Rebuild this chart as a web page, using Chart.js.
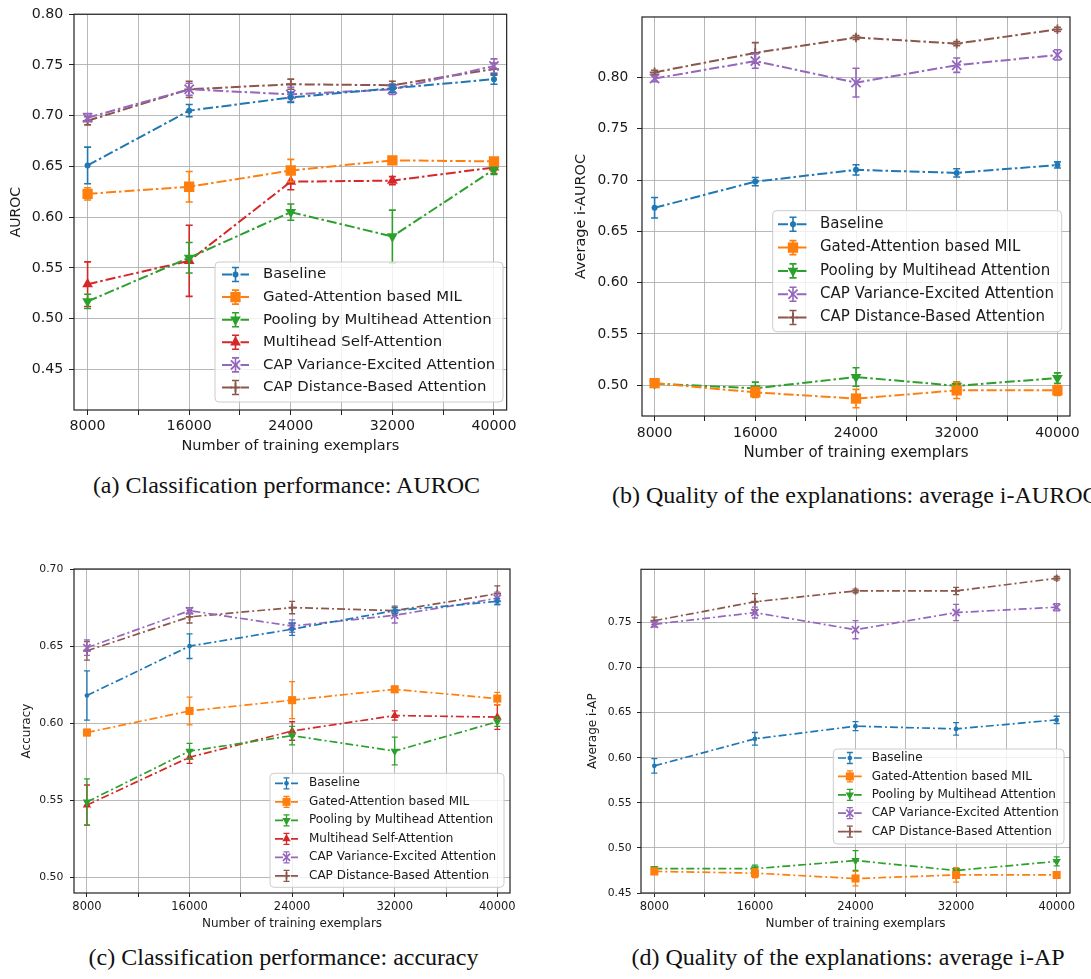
<!DOCTYPE html>
<html><head><meta charset="utf-8">
<script src="https://cdn.jsdelivr.net/npm/chart.js@4.4.1/dist/chart.umd.min.js"></script>
<style>
html,body{margin:0;padding:0;background:#fff;width:1091px;height:979px;overflow:hidden;position:relative}
canvas{position:absolute;display:block}
.cap{position:absolute;font-family:"Liberation Serif","Times New Roman",serif;font-size:24px;line-height:24px;white-space:nowrap;color:#111}
</style></head><body>
<canvas id="ca"></canvas>
<canvas id="cb"></canvas>
<canvas id="cc"></canvas>
<canvas id="cd"></canvas>
<div class="cap" style="left:0;width:573px;top:473px;text-align:center">(a) Classification performance: AUROC</div>
<div class="cap" style="left:612px;top:483px">(b) Quality of the explanations: average i-AUROC</div>
<div class="cap" style="left:0;width:567px;top:945px;text-align:center">(c) Classification performance: accuracy</div>
<div class="cap" style="left:560px;width:576px;top:945px;text-align:center">(d) Quality of the explanations: average i-AP</div>
<script>
// ---------- data ----------
const xValues = [8000, 16000, 24000, 32000, 40000];
const xGridTicks = [8000, 12000, 16000, 20000, 24000, 28000, 32000, 36000, 40000];
const xLabelTicks = [8000, 16000, 24000, 32000, 40000];
const xTitle = 'Number of training exemplars';

// (a) AUROC
const aurocTicks = [0.45, 0.50, 0.55, 0.60, 0.65, 0.70, 0.75, 0.80];
const aurocBaseline = [0.651, 0.705, 0.718, 0.727, 0.736];
const aurocBaselineErr = [0.018, 0.006, 0.005, 0.004, 0.005];
const aurocGated = [0.623, 0.630, 0.646, 0.656, 0.655];
const aurocGatedErr = [0.006, 0.015, 0.011, 0.003, 0.003];
const aurocPooling = [0.517, 0.560, 0.605, 0.581, 0.647];
const aurocPoolingErr = [0.007, 0.015, 0.008, 0.026, 0.005];
const aurocMSA = [0.534, 0.557, 0.635, 0.636, 0.649];
const aurocMSAErr = [0.022, 0.035, 0.008, 0.004, 0.006];
const aurocCapVar = [0.698, 0.726, 0.721, 0.726, 0.749];
const aurocCapVarErr = [0.004, 0.006, 0.007, 0.005, 0.007];
const aurocCapDist = [0.695, 0.726, 0.731, 0.730, 0.746];
const aurocCapDistErr = [0.004, 0.008, 0.005, 0.004, 0.006];

// (b) average i-AUROC
const iaurocTicks = [0.50, 0.55, 0.60, 0.65, 0.70, 0.75, 0.80];
const iaurocBaseline = [0.673, 0.6985, 0.710, 0.707, 0.7147];
const iaurocBaselineErr = [0.010, 0.004, 0.005, 0.004, 0.003];
const iaurocGated = [0.502, 0.493, 0.487, 0.495, 0.495];
const iaurocGatedErr = [0.003, 0.005, 0.009, 0.008, 0.005];
const iaurocPooling = [0.5016, 0.497, 0.508, 0.4994, 0.507];
const iaurocPoolingErr = [0.003, 0.006, 0.009, 0.004, 0.005];
const iaurocCapVar = [0.799, 0.816, 0.795, 0.812, 0.822];
const iaurocCapVarErr = [0.003, 0.007, 0.014, 0.007, 0.005];
const iaurocCapDist = [0.805, 0.824, 0.839, 0.833, 0.847];
const iaurocCapDistErr = [0.002, 0.010, 0.002, 0.002, 0.002];

// (c) accuracy
const accTicks = [0.50, 0.55, 0.60, 0.65, 0.70];
const accBaseline = [0.618, 0.650, 0.661, 0.673, 0.679];
const accBaselineErr = [0.016, 0.008, 0.004, 0.002, 0.002];
const accGated = [0.594, 0.608, 0.615, 0.622, 0.616];
const accGatedErr = [0.002, 0.009, 0.012, 0.002, 0.004];
const accPooling = [0.549, 0.582, 0.592, 0.582, 0.601];
const accPoolingErr = [0.015, 0.005, 0.006, 0.009, 0.003];
const accMSA = [0.547, 0.578, 0.595, 0.605, 0.604];
const accMSAErr = [0.013, 0.004, 0.006, 0.003, 0.008];
const accCapVar = [0.649, 0.673, 0.663, 0.670, 0.681];
const accCapVarErr = [0.005, 0.002, 0.004, 0.005, 0.004];
const accCapDist = [0.647, 0.669, 0.675, 0.673, 0.684];
const accCapDistErr = [0.006, 0.004, 0.004, 0.003, 0.005];

// (d) average i-AP
const iapTicks = [0.45, 0.50, 0.55, 0.60, 0.65, 0.70, 0.75];
const iapBaseline = [0.591, 0.621, 0.635, 0.632, 0.642];
const iapBaselineErr = [0.008, 0.007, 0.005, 0.007, 0.004];
const iapGated = [0.474, 0.472, 0.466, 0.470, 0.470];
const iapGatedErr = [0.003, 0.005, 0.008, 0.008, 0.002];
const iapPooling = [0.477, 0.477, 0.486, 0.475, 0.485];
const iapPoolingErr = [0.002, 0.004, 0.011, 0.003, 0.005];
const iapCapVar = [0.748, 0.761, 0.742, 0.761, 0.767];
const iapCapVarErr = [0.003, 0.006, 0.010, 0.009, 0.004];
const iapCapDist = [0.752, 0.773, 0.785, 0.785, 0.799];
const iapCapDistErr = [0.004, 0.009, 0.002, 0.004, 0.002];

// ---------- styles ----------
const seriesStyle = {
  'Baseline': {color: '#1f77b4', style: 'circle', r: 3, rot: 0},
  'Gated-Attention based MIL': {color: '#ff7f0e', style: 'rect', r: 7.3, rot: 0},
  'Pooling by Multihead Attention': {color: '#2ca02c', style: 'triangle', r: 6.2, rot: 180},
  'Multihead Self-Attention': {color: '#d62728', style: 'triangle', r: 6.2, rot: 0},
  'CAP Variance-Excited Attention': {color: '#9467bd', style: 'crossRot', r: 6.5, rot: 0},
  'CAP Distance-Based Attention': {color: '#8c564b', style: 'cross', r: 4.8, rot: 0}
};

const FONT = "'DejaVu Sans', 'Liberation Sans', sans-serif";
Chart.defaults.font.family = FONT;
Chart.defaults.color = '#1a1a1a';

function drawMarker(ctx, st, x, y, scale) {
  const r = st.r * scale;
  ctx.save();
  ctx.fillStyle = st.color; ctx.strokeStyle = st.color; ctx.lineWidth = 1.8; ctx.setLineDash([]);
  ctx.beginPath();
  if (st.style === 'circle') { ctx.arc(x, y, r, 0, Math.PI * 2); ctx.fill(); }
  else if (st.style === 'rect') { const s = r * Math.SQRT1_2; ctx.rect(x - s, y - s, 2 * s, 2 * s); ctx.fill(); }
  else if (st.style === 'triangle') {
    let a = st.rot * Math.PI / 180;
    for (let k = 0; k < 3; k++) { const px = x + Math.sin(a) * r, py = y - Math.cos(a) * r; k ? ctx.lineTo(px, py) : ctx.moveTo(px, py); a += 2 * Math.PI / 3; }
    ctx.closePath(); ctx.fill();
  } else if (st.style === 'crossRot') {
    const o = r * Math.SQRT1_2;
    ctx.moveTo(x - o, y - o); ctx.lineTo(x + o, y + o); ctx.moveTo(x - o, y + o); ctx.lineTo(x + o, y - o); ctx.stroke();
  } else if (st.style === 'cross') {
    ctx.moveTo(x - r, y); ctx.lineTo(x + r, y); ctx.moveTo(x, y - r); ctx.lineTo(x, y + r); ctx.stroke();
  }
  ctx.restore();
}

const errorBarPlugin = {
  id: 'errbars',
  beforeDatasetDraw(chart, args, opts) {
    const ds = chart.data.datasets[args.index];
    if (!ds.errors) return;
    const ctx = chart.ctx, ys = chart.scales.y, cap = opts.cap, a = chart.chartArea;
    ctx.save();
    ctx.beginPath(); ctx.rect(a.left, a.top, a.right - a.left, a.bottom - a.top); ctx.clip();
    ctx.strokeStyle = ds.borderColor; ctx.lineWidth = opts.width; ctx.setLineDash([]);
    args.meta.data.forEach((pt, i) => {
      const v = ds.data[i].y, e = ds.errors[i];
      const x = pt.x, y1 = ys.getPixelForValue(v - e), y2 = ys.getPixelForValue(v + e);
      ctx.beginPath();
      ctx.moveTo(x, y1); ctx.lineTo(x, y2);
      ctx.moveTo(x - cap, y1); ctx.lineTo(x + cap, y1);
      ctx.moveTo(x - cap, y2); ctx.lineTo(x + cap, y2);
      ctx.stroke();
    });
    ctx.restore();
  }
};

const frameLegendPlugin = {
  id: 'frameLegend',
  afterDraw(chart, args, o) {
    const ctx = chart.ctx, a = chart.chartArea;
    ctx.save();
    ctx.strokeStyle = '#222'; ctx.lineWidth = 1.2; ctx.setLineDash([]);
    ctx.strokeRect(a.left, a.top, a.right - a.left, a.bottom - a.top);
    // legend
    const L = o.legend;
    const rr = 4;
    ctx.beginPath();
    ctx.moveTo(L.x0 + rr, L.y0); ctx.lineTo(L.x1 - rr, L.y0); ctx.quadraticCurveTo(L.x1, L.y0, L.x1, L.y0 + rr);
    ctx.lineTo(L.x1, L.y1 - rr); ctx.quadraticCurveTo(L.x1, L.y1, L.x1 - rr, L.y1);
    ctx.lineTo(L.x0 + rr, L.y1); ctx.quadraticCurveTo(L.x0, L.y1, L.x0, L.y1 - rr);
    ctx.lineTo(L.x0, L.y0 + rr); ctx.quadraticCurveTo(L.x0, L.y0, L.x0 + rr, L.y0);
    ctx.closePath();
    ctx.fillStyle = 'rgba(255,255,255,0.8)'; ctx.fill();
    ctx.strokeStyle = '#cccccc'; ctx.lineWidth = 1; ctx.stroke();
    chart.data.datasets.forEach((ds, i) => {
      const st = seriesStyle[ds.label];
      const y = L.row0 + i * L.step, cx = (L.hx0 + L.hx1) / 2;
      ctx.save();
      ctx.strokeStyle = st.color; ctx.lineWidth = o.lineWidth; ctx.setLineDash(o.dash);
      ctx.beginPath(); ctx.moveTo(L.hx0, y); ctx.lineTo(L.hx1, y); ctx.stroke();
      ctx.setLineDash([]); ctx.lineWidth = o.errWidth;
      const h = L.errH, c = o.cap;
      ctx.beginPath(); ctx.moveTo(cx, y - h); ctx.lineTo(cx, y + h);
      ctx.moveTo(cx - c, y - h); ctx.lineTo(cx + c, y - h); ctx.moveTo(cx - c, y + h); ctx.lineTo(cx + c, y + h);
      ctx.stroke();
      ctx.restore();
      drawMarker(ctx, st, cx, y, o.markerScale);
      ctx.fillStyle = '#1a1a1a'; ctx.font = L.font + 'px ' + FONT; ctx.textBaseline = 'middle'; ctx.textAlign = 'left';
      ctx.fillText(ds.label, L.tx, y);
    });
    ctx.restore();
  }
};

function buildChart(id, P, list) {
  const cv = document.getElementById(id);
  cv.width = P.w; cv.height = P.h;
  cv.style.left = P.left + 'px'; cv.style.top = P.top + 'px';
  cv.style.width = P.w + 'px'; cv.style.height = P.h + 'px';
  const datasets = list.map(([name, vals, errs]) => {
    const st = seriesStyle[name];
    return {
      label: name,
      data: xValues.map((x, i) => ({x: x, y: vals[i]})),
      errors: errs,
      borderColor: st.color, backgroundColor: st.color,
      borderWidth: P.lineWidth, borderDash: P.dash,
      pointStyle: st.style, pointRadius: st.r * P.markerScale, pointRotation: st.rot,
      pointBorderColor: st.color, pointBackgroundColor: st.color,
      pointBorderWidth: (st.style === 'cross' || st.style === 'crossRot') ? 1.8 : 0,
      tension: 0, fill: false
    };
  });
  return new Chart(cv, {
    type: 'line',
    data: {datasets},
    plugins: [errorBarPlugin, frameLegendPlugin],
    options: {
      responsive: false, animation: false, events: [],
      layout: {padding: {left: 0, top: P.padTop, right: P.padRight, bottom: 0}},
      plugins: {
        legend: {display: false}, tooltip: {enabled: false},
        errbars: {cap: P.cap, width: P.errWidth},
        frameLegend: {legend: P.legend, lineWidth: P.lineWidth, dash: P.dash, errWidth: P.errWidth, cap: P.cap, markerScale: P.markerScale}
      },
      scales: {
        x: {
          type: 'linear', min: P.xMin, max: P.xMax,
          afterBuildTicks: s => { s.ticks = xGridTicks.map(v => ({value: v})); },
          afterFit: s => { s.height = P.xH; },
          grid: {color: '#b0b0b0', lineWidth: 0.9, drawTicks: true, tickLength: P.tickLen, tickColor: '#222', tickWidth: 1},
          border: {display: false},
          ticks: {autoSkip: false, maxRotation: 0, padding: P.xTickPad, font: {size: P.xTickSize}, color: '#1a1a1a',
                  callback: v => xLabelTicks.includes(v) ? String(v) : ''},
          title: {display: true, text: xTitle, font: {size: P.xTitleSize}, color: '#1a1a1a', padding: {top: 0, bottom: 0}}
        },
        y: {
          type: 'linear', min: P.yMin, max: P.yMax,
          afterBuildTicks: s => { s.ticks = P.yTicks.map(v => ({value: v})); },
          afterFit: s => { s.width = P.yW; },
          grid: {color: '#b0b0b0', lineWidth: 0.9, drawTicks: true, tickLength: P.tickLen, tickColor: '#222', tickWidth: 1},
          border: {display: false},
          ticks: {padding: P.yTickPad, font: {size: P.yTickSize}, color: '#1a1a1a', callback: v => v.toFixed(2)},
          title: {display: true, text: P.yTitle, font: {size: P.yTitleSize}, color: '#1a1a1a', padding: {top: P.yTitlePad, bottom: 0}}
        }
      }
    }
  });
}

buildChart('ca', {
  left: 0, top: 0, w: 520, h: 455, padTop: 11, padRight: 9, yW: 74, xH: 45,
  xMin: 6930, xMax: 41000, yMin: 0.41, yMax: 0.80, yTicks: aurocTicks, yTitle: 'AUROC',
  tickLen: 5, xTickPad: 3.2, xTickSize: 14.2, yTickPad: 5.7, yTickSize: 14.2, xTitleSize: 14.5, yTitleSize: 14, yTitlePad: 7.6,
  lineWidth: 2, dash: [10, 3, 2.5, 3], errWidth: 1.6, cap: 3.5, markerScale: 1,
  legend: {x0: 215, y0: 262, x1: 503, y1: 402, row0: 274.5, step: 22.6, hx0: 222, hx1: 249, tx: 263, font: 14.9, errH: 7}
}, [
  ['Baseline', aurocBaseline, aurocBaselineErr],
  ['Gated-Attention based MIL', aurocGated, aurocGatedErr],
  ['Pooling by Multihead Attention', aurocPooling, aurocPoolingErr],
  ['Multihead Self-Attention', aurocMSA, aurocMSAErr],
  ['CAP Variance-Excited Attention', aurocCapVar, aurocCapVarErr],
  ['CAP Distance-Based Attention', aurocCapDist, aurocCapDistErr]
]);

buildChart('cb', {
  left: 560, top: 0, w: 531, h: 462, padTop: 6.7, padRight: 21, yW: 82, xH: 46,
  xMin: 7000, xMax: 41000, yMin: 0.470, yMax: 0.859, yTicks: iaurocTicks, yTitle: 'Average i-AUROC',
  tickLen: 5, xTickPad: 4.2, xTickSize: 14, yTickPad: 8.7, yTickSize: 13.8, xTitleSize: 15, yTitleSize: 14.5, yTitlePad: 13,
  lineWidth: 2, dash: [10, 3, 2.5, 3], errWidth: 1.6, cap: 3.5, markerScale: 1,
  legend: {x0: 212.7, y0: 210.7, x1: 501.7, y1: 331.7, row0: 224.3, step: 23.3, hx0: 218, hx1: 248, tx: 260, font: 15, errH: 7}
}, [
  ['Baseline', iaurocBaseline, iaurocBaselineErr],
  ['Gated-Attention based MIL', iaurocGated, iaurocGatedErr],
  ['Pooling by Multihead Attention', iaurocPooling, iaurocPoolingErr],
  ['CAP Variance-Excited Attention', iaurocCapVar, iaurocCapVarErr],
  ['CAP Distance-Based Attention', iaurocCapDist, iaurocCapDistErr]
]);

buildChart('cc', {
  left: 0, top: 555, w: 520, h: 376, padTop: 14, padRight: 10, yW: 74, xH: 38,
  xMin: 6990, xMax: 40990, yMin: 0.49, yMax: 0.70, yTicks: accTicks, yTitle: 'Accuracy',
  tickLen: 4, xTickPad: 3.5, xTickSize: 11.5, yTickPad: 6.7, yTickSize: 10.8, xTitleSize: 12, yTitleSize: 12, yTitlePad: 20.1,
  lineWidth: 1.7, dash: [8, 3, 2, 3], errWidth: 1.3, cap: 3, markerScale: 0.78,
  legend: {x0: 270, y0: 218.3, x1: 504, y1: 332.3, row0: 228.3, step: 18.5, hx0: 275, hx1: 298, tx: 309, font: 12, errH: 5.5}
}, [
  ['Baseline', accBaseline, accBaselineErr],
  ['Gated-Attention based MIL', accGated, accGatedErr],
  ['Pooling by Multihead Attention', accPooling, accPoolingErr],
  ['Multihead Self-Attention', accMSA, accMSAErr],
  ['CAP Variance-Excited Attention', accCapVar, accCapVarErr],
  ['CAP Distance-Based Attention', accCapDist, accCapDistErr]
]);

buildChart('cd', {
  left: 560, top: 555, w: 531, h: 376, padTop: 14.3, padRight: 21, yW: 81, xH: 38,
  xMin: 6940, xMax: 41060, yMin: 0.45, yMax: 0.809, yTicks: iapTicks, yTitle: 'Average i-AP',
  tickLen: 4, xTickPad: 3.5, xTickSize: 11.5, yTickPad: 5.3, yTickSize: 10.8, xTitleSize: 12, yTitleSize: 12, yTitlePad: 26.1,
  lineWidth: 1.7, dash: [8, 3, 2, 3], errWidth: 1.3, cap: 3, markerScale: 0.78,
  legend: {x0: 273.3, y0: 194, x1: 504, y1: 289, row0: 203, step: 18.4, hx0: 278, hx1: 301.7, tx: 311.7, font: 12, errH: 5.5}
}, [
  ['Baseline', iapBaseline, iapBaselineErr],
  ['Gated-Attention based MIL', iapGated, iapGatedErr],
  ['Pooling by Multihead Attention', iapPooling, iapPoolingErr],
  ['CAP Variance-Excited Attention', iapCapVar, iapCapVarErr],
  ['CAP Distance-Based Attention', iapCapDist, iapCapDistErr]
]);
</script>
</body></html>
